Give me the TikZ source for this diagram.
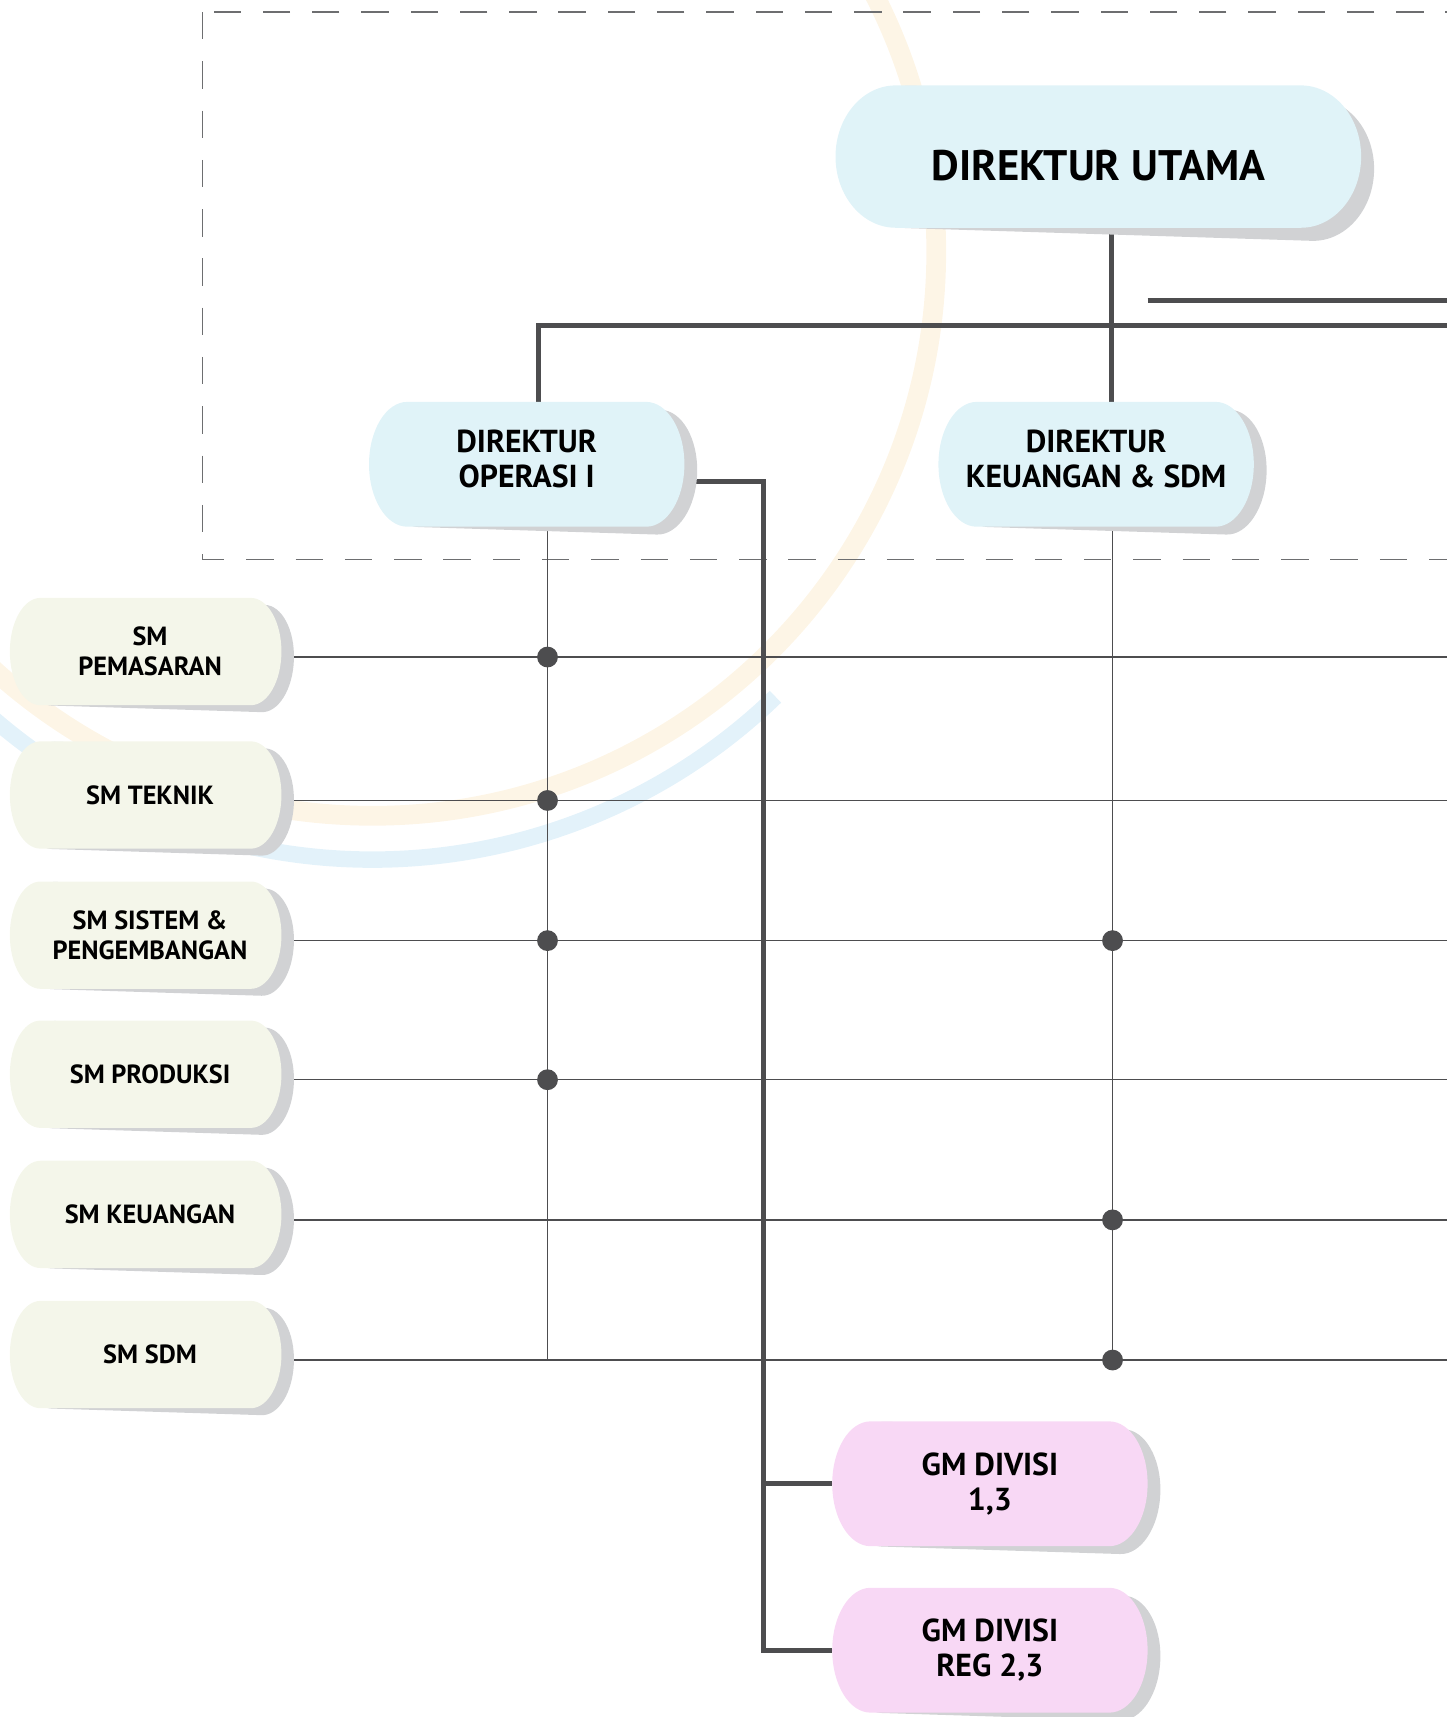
\documentclass[tikz,border=0pt]{standalone}
\usepackage{fontspec}
\setmainfont{PT Sans}
\usetikzlibrary{calc}
\definecolor{dircyan}{HTML}{E0F3F8}
\definecolor{smcream}{HTML}{F4F6EA}
\definecolor{gmpink}{HTML}{F8D8F5}
\definecolor{shadowgrey}{HTML}{D1D2D4}
\definecolor{linegrey}{HTML}{4D4D4F}
\definecolor{dashgrey}{HTML}{6D6E70}
\definecolor{arcbeige}{HTML}{FDF5E6}
\definecolor{arcblue}{HTML}{E3F2FA}
\pgfdeclarelayer{deco}
\pgfdeclarelayer{links}
\pgfdeclarelayer{pills}
\pgfsetlayers{deco,links,pills,main}
\tikzstyle{toplabel} = [font=\fontsize{39}{43}\selectfont\bfseries, align=center, inner sep=0]
\tikzstyle{dirlabel} = [font=\fontsize{29}{32}\selectfont\bfseries, align=center, inner sep=0]
\tikzstyle{smlabel} = [font=\fontsize{24}{27}\selectfont\bfseries, align=center, inner sep=0]
\tikzstyle{boldlink} = [draw=linegrey, line width=4.5]
\tikzstyle{thinlink} = [draw=linegrey, line width=1.3]
% pill shaped box with its shadow: name, centre, width, height, end radius, fill, style, text
\newcommand{\pillnode}[8]{%
  \begin{pgfonlayer}{pills}
    \begin{scope}[shift={#2}]
      \fill[shadowgrey, rotate around={-1.8:(-#3/2+#5,-#4/2)}, xshift=10]
        (-#3/2+#5,#4/2) -- (#3/2-#5,#4/2)
        arc[start angle=90, end angle=-90, x radius=#5, y radius=#4/2]
        -- (-#3/2+#5,-#4/2)
        arc[start angle=270, end angle=90, x radius=#5, y radius=#4/2] -- cycle;
      \fill[#6]
        (-#3/2+#5,#4/2) -- (#3/2-#5,#4/2)
        arc[start angle=90, end angle=-90, x radius=#5, y radius=#4/2]
        -- (-#3/2+#5,-#4/2)
        arc[start angle=270, end angle=90, x radius=#5, y radius=#4/2] -- cycle;
    \end{scope}
  \end{pgfonlayer}
  \node[#7, minimum width=#3, minimum height=#4] (#1) at #2 {#8};
}

\begin{document}
\begin{tikzpicture}[x=1pt, y=1pt]
    \useasboundingbox (0,0) rectangle (1321,-1568);
    \clip (0,0) rectangle (1321,-1568);

    % background arcs and frame
    \begin{pgfonlayer}{deco}
        \draw[arcbeige, line width=18] (340,-230) circle (515);
        \draw[arcblue, line width=15] (340,-255) ++(220:530)
            arc[start angle=220, end angle=314, radius=530];
        \draw[dashgrey, line width=1.3, dash pattern=on 25 off 20]
            (185,-11) rectangle (1345,-511);
    \end{pgfonlayer}

    \pillnode{du}{(1003,-143)}{480}{130}{55}{dircyan}{toplabel, yshift=-8}{DIREKTUR UTAMA}
    \pillnode{do}{(481,-424)}{288}{114}{35}{dircyan}{dirlabel, yshift=5}{DIREKTUR\\OPERASI I}
    \pillnode{dk}{(1001,-424)}{288}{114}{35}{dircyan}{dirlabel, yshift=5}{DIREKTUR\\KEUANGAN \& SDM}

    \pillnode{smp}{(133,-595)}{248}{98}{28}{smcream}{smlabel, xshift=4}{SM\\PEMASARAN}
    \pillnode{smt}{(133,-726)}{248}{98}{28}{smcream}{smlabel, xshift=4}{SM TEKNIK}
    \pillnode{sms}{(133,-854)}{248}{98}{28}{smcream}{smlabel, xshift=4}{SM SISTEM \&\\PENGEMBANGAN}
    \pillnode{smpr}{(133,-981)}{248}{98}{28}{smcream}{smlabel, xshift=4}{SM PRODUKSI}
    \pillnode{smk}{(133,-1109)}{248}{98}{28}{smcream}{smlabel, xshift=4}{SM KEUANGAN}
    \pillnode{sdm}{(133,-1237)}{248}{98}{28}{smcream}{smlabel, xshift=4}{SM SDM}

    \pillnode{gm1}{(904,-1355)}{288}{114}{35}{gmpink}{dirlabel}{GM DIVISI\\1,3}
    \pillnode{gm2}{(904,-1507)}{288}{114}{35}{gmpink}{dirlabel}{GM DIVISI\\REG 2,3}

    \coordinate (edge) at (1330,0);
    \coordinate (bus) at (1015,-297);
    \coordinate (stub) at (1048,-274);
    \coordinate (spine) at (697,-440);
    \coordinate (opsline) at ([xshift=19]do.center);
    \coordinate (finline) at ([xshift=15]dk.center);

    \begin{pgfonlayer}{links}
        \draw[boldlink] (du -| bus) -- (dk -| bus);
        \draw[boldlink] (opsline -| do.north) ++(11,0) |- (bus) -- (bus -| edge);
        \draw[boldlink] (stub) -- (stub -| edge);
        \draw[boldlink] (do.center |- spine) -- (spine) |- (gm2.west);
        \draw[boldlink] (spine |- gm1.west) -- (gm1.west);

        \foreach \n in {smp,smt,sms,smpr,smk,sdm}{
            \coordinate (\n-row) at ([yshift=-5]\n.east);
            \draw[thinlink] (\n-row) -- (\n-row -| edge);
        }
        \draw[thinlink] (opsline) -- (opsline |- sdm-row);
        \draw[thinlink] (finline) -- (finline |- sdm-row);
        \foreach \n in {smp,smt,sms,smpr}
            \fill[linegrey] (opsline |- \n-row) circle (9.5);
        \foreach \n in {sms,smk,sdm}
            \fill[linegrey] (finline |- \n-row) circle (9.5);
    \end{pgfonlayer}
\end{tikzpicture}
\end{document}
